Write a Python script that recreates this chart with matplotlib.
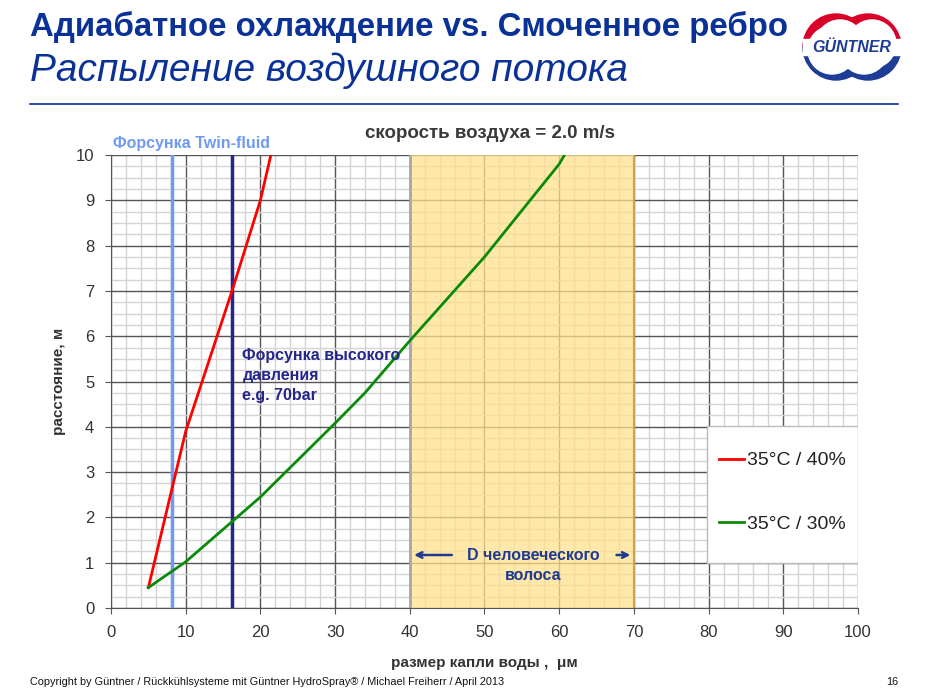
import numpy as np
import matplotlib
matplotlib.use('Agg')
import matplotlib.pyplot as plt
from matplotlib.patches import Rectangle, Wedge, Circle
from matplotlib.ticker import MultipleLocator

plt.rcParams['font.family'] = ['Liberation Sans', 'DejaVu Sans']

# droplet size (um) vs. distance (m)
red_x = [5, 10, 16.2, 20, 21.4]
red_y = [0.45, 3.9, 7.0, 9.0, 10.0]
green_x = [5, 10, 20, 30, 34, 40, 50, 60, 60.7]
green_y = [0.45, 1.02, 2.45, 4.08, 4.75, 5.9, 7.75, 9.8, 10.0]
red_label = '35°C / 40%'
green_label = '35°C / 30%'

twin_fluid_x = 8.2     # Twin-fluid nozzle droplet size
high_press_x = 16.2    # high pressure nozzle droplet size
hair_range = [40, 70]  # human hair diameter

xticks = np.arange(0, 101, 10)
yticks = np.arange(0, 11, 1)

navy = '#0a3296'
fig = plt.figure(figsize=(9.28, 6.95), dpi=100)

# header
fig.text(30 / 928, 1 - 36 / 695, 'Адиабатное охлаждение vs. Смоченное ребро',
         fontsize=23.8, fontweight='bold', color=navy, va='baseline')
fig.text(30 / 928, 1 - 81 / 695, 'Распыление воздушного потока',
         fontsize=28, fontstyle='italic', color=navy, va='baseline')
fig.add_artist(plt.Line2D([30 / 928, 898 / 928], [1 - 104 / 695] * 2,
                          color=navy, lw=1.2, transform=fig.transFigure))

# logo (rough)
lax = fig.add_axes([800 / 928, 1 - 88 / 695, 105 / 928, 83 / 695])
lax.set_xlim(800, 905)
lax.set_ylim(695 - 88, 695 - 5)
lax.set_aspect('equal')
lax.axis('off')
for cx in (836, 868):
    lax.add_patch(Wedge((cx, 648), 33, 0, 180, color='#d9002a'))
    lax.add_patch(Wedge((cx, 648), 33, 180, 360, color='#1d3c96'))
for cx in (836, 868):
    lax.add_patch(Circle((cx + 4, 651), 24, color='white'))
    lax.add_patch(Circle((cx - 4, 645), 24, color='white'))
lax.add_patch(Rectangle((803, 640), 100, 16, color='white'))
lax.text(852, 648, 'GÜNTNER', fontsize=11.5, fontweight='bold', fontstyle='italic',
         color='#1d3c96', ha='center', va='center')

# chart
ax = fig.add_axes([111 / 928, 87 / 695, 747 / 928, 453 / 695])
ax.set_xlim(0, 100)
ax.set_ylim(0, 10)
ax.set_xticks(xticks)
ax.set_yticks(yticks)
ax.xaxis.set_minor_locator(MultipleLocator(2))
ax.yaxis.set_minor_locator(MultipleLocator(0.25))
ax.grid(which='minor', color='#d4d4d4', lw=1, zorder=0)
ax.grid(which='major', color='#555555', lw=1, zorder=0.5)
ax.set_axisbelow(True)
ax.tick_params(which='minor', length=0)
ax.tick_params(which='major', length=4, color='#555555', labelsize=12,
               labelcolor='#333333', pad=8)
for s in ('top', 'right'):
    ax.spines[s].set_visible(False)
for s in ('left', 'bottom'):
    ax.spines[s].set_color('#555555')

ax.axvspan(hair_range[0], hair_range[1], color='#ffe18c', alpha=0.75, lw=0, zorder=1)
ax.axvline(hair_range[0], color='#a8a8a8', lw=2, zorder=1.2)
ax.axvline(hair_range[1], color='#c9a44a', lw=1.5, zorder=1.2)

# legend background box
ax.add_patch(Rectangle((0.798, 0.099), 0.202, 0.303, transform=ax.transAxes,
                       facecolor='white', edgecolor='#bbbbbb', lw=1, zorder=2))

ax.axvline(twin_fluid_x, color='#6f9af0', lw=2.5, zorder=3)
ax.axvline(high_press_x, color='#25258c', lw=2.5, zorder=3)

ax.plot(red_x, red_y, color='#ff0000', lw=2, zorder=4, label=red_label)
ax.plot(green_x, green_y, color='#0a8a0a', lw=2, zorder=4, label=green_label)

leg = ax.legend(loc='upper left', bbox_to_anchor=(0.814, 0.345), frameon=False,
                borderaxespad=0, borderpad=0, labelspacing=2.35, handlelength=1.3,
                handletextpad=0.15, fontsize=14)
for t in leg.get_texts():
    t.set_color('#222222')
leg.set_zorder(5)

ax.text(0.3, 10.08, 'Форсунка Twin-fluid', color='#6f9af0', fontsize=11.5,
        fontweight='bold', va='bottom', ha='left', clip_on=False)
ax.text(17.6, 5.74, 'Форсунка высокого\nдавления\ne.g. 70bar', color='#25258c',
        fontsize=11.5, fontweight='bold', va='top', ha='left', linespacing=1.4,
        zorder=5)
ax.text(56.5, 0.94, 'D человеческого\nволоса', color='#1f3a93', fontsize=11.5,
        fontweight='bold', va='center', ha='center', linespacing=1.45, zorder=5)
ax.annotate('', xy=(hair_range[0] + 0.2, 1.17), xytext=(46, 1.17),
            arrowprops=dict(arrowstyle='->', color='#1f3a93', lw=1.8), zorder=5)
ax.annotate('', xy=(hair_range[1] - 0.1, 1.17), xytext=(67.3, 1.17),
            arrowprops=dict(arrowstyle='->', color='#1f3a93', lw=1.8), zorder=5)

ax.text(0.507, 1.047, 'скорость воздуха = 2.0 m/s', transform=ax.transAxes,
        fontsize=13.5, fontweight='bold', color='#3a3a3a', ha='center', va='center')
ax.set_ylabel('расстояние, м', fontsize=11, fontweight='bold', color='#333333',
              labelpad=7)
ax.set_xlabel('размер капли воды ,  μм', fontsize=11, fontweight='bold',
              color='#333333', labelpad=12)

# footer
fig.text(30 / 928, 1 - 682 / 695,
         'Copyright by Güntner / Rückkühlsysteme mit Güntner HydroSpray® / Michael Freiherr / April 2013',
         fontsize=7.8, color='#111111', va='center')
fig.text(898 / 928, 1 - 682 / 695, '16', fontsize=7.8, color='#111111',
         va='center', ha='right')

fig.savefig('out.png', dpi=100)
